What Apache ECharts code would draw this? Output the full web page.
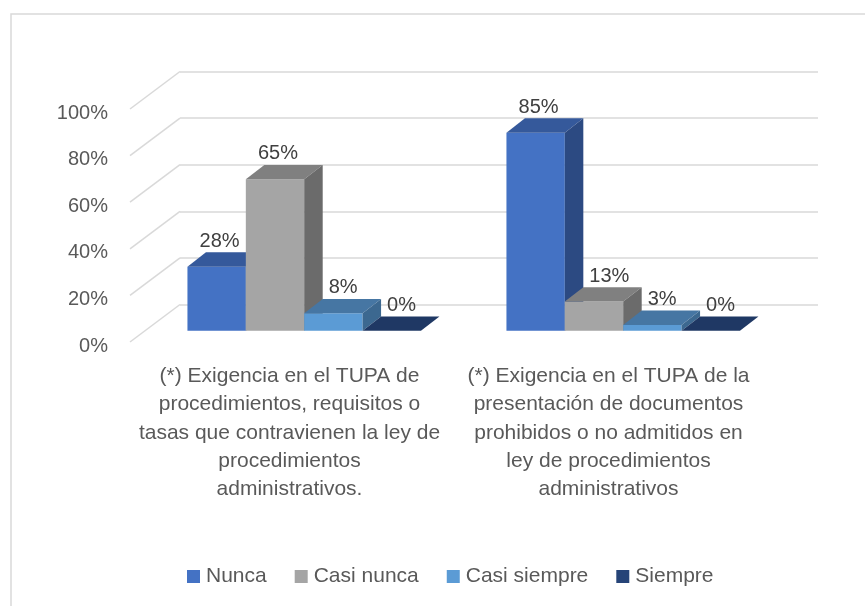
<!DOCTYPE html>
<html>
<head>
<meta charset="utf-8">
<script src="https://cdn.jsdelivr.net/npm/echarts@6/dist/echarts.min.js"></script>
<style>
  html, body { margin: 0; padding: 0; background: #fff; }
  #chart { width: 865px; height: 606px; }
</style>
</head>
<body>
<div id="chart"></div>
<script>
// categorias (texto del eje X)
const categories = [
  '(*) Exigencia en el TUPA de\nprocedimientos, requisitos o\ntasas que contravienen la ley de\nprocedimientos\nadministrativos.',
  '(*) Exigencia en el TUPA de la\npresentación de documentos\nprohibidos o no admitidos en\nley de procedimientos\nadministrativos'
];
const seriesNames = ['Nunca', 'Casi nunca', 'Casi siempre', 'Siempre'];
// valores en %
const nunca = [27.5, 85];
const casiNunca = [65, 12.5];
const casiSiempre = [7.5, 2.5];
const siempre = [0, 0];
const yTicks = [0, 20, 40, 60, 80, 100];

// colores: cara frontal, superior, lateral
const faces = [
  { front: '#4472C4', top: '#35599B', side: '#2C4A82' },
  { front: '#A5A5A5', top: '#808080', side: '#6B6B6B' },
  { front: '#5B9BD5', top: '#4676A3', side: '#3C6890' },
  { front: '#264478', top: '#1F3864', side: '#1A2F55' }
];

// planos del efecto 3D
const FRONT = { left: 130, top: 109 };
const BAR = { left: 144.7, top: 97.7 };
const BACK = { left: 180, top: 71.5 };
const PLOT_W = 638, PLOT_H = 233;
const BAR_DX = 18.5, BAR_DY = -14.3;
const BAR_FRAC = 0.183;
const FONT = 'Liberation Sans';

const values = [nunca, casiNunca, casiSiempre, siempre];
const chart = echarts.init(document.getElementById('chart'));

function renderBar(si) {
  return function (params, api) {
    const idx = api.value(0), v = api.value(1);
    const c = api.coord([idx, v]);
    const base = api.coord([idx, 0]);
    const band = api.size([1, 0])[0];
    const bw = band * BAR_FRAC;
    const x0 = c[0] - 2 * bw + si * bw;
    const top = c[1], bot = base[1];
    const f = faces[si];
    const txt = Math.round(v) + '%';
    // si la barra anterior es mas alta, correr la etiqueta para no tapar su costado
    let lx = x0 + bw / 2 + 3;
    if (si > 0 && values[si - 1][idx] > v) {
      const tw = echarts.format.getTextRect ? echarts.format.getTextRect(txt, '20px ' + FONT).width : txt.length * 11;
      lx = Math.max(lx, x0 + BAR_DX + tw / 2 + 6);
    }
    return {
      type: 'group',
      children: [
        { type: 'rect', shape: { x: x0, y: top, width: bw, height: bot - top }, style: { fill: f.front } },
        { type: 'polygon', shape: { points: [[x0, top], [x0 + bw, top], [x0 + bw + BAR_DX, top + BAR_DY], [x0 + BAR_DX, top + BAR_DY]] }, style: { fill: f.top } },
        { type: 'polygon', shape: { points: [[x0 + bw, top], [x0 + bw, bot], [x0 + bw + BAR_DX, bot + BAR_DY], [x0 + bw + BAR_DX, top + BAR_DY]] }, style: { fill: f.side } },
        { type: 'text', z2: 10, style: { text: txt, x: lx, y: top + BAR_DY - 11,
          align: 'center', verticalAlign: 'middle', fontSize: 20, fontFamily: FONT, fill: '#404040' } }
      ]
    };
  };
}

const barSeries = seriesNames.map((name, si) => ({
  name: name,
  type: 'custom',
  xAxisIndex: 0,
  yAxisIndex: 0,
  z: 3,
  silent: true,
  itemStyle: { color: faces[si].front },
  renderItem: renderBar(si),
  data: values[si].map((v, i) => [i, v])
}));

const option = {
  backgroundColor: '#fff',
  animation: false,
  graphic: [{
    type: 'rect', shape: { x: 11, y: 14, width: 900, height: 700 },
    style: { fill: 'none', stroke: '#d9d9d9', lineWidth: 1.5 }, silent: true
  }],
  legend: {
    data: seriesNames,
    left: 182,
    top: 561,
    icon: 'rect',
    itemWidth: 13,
    itemHeight: 13,
    itemGap: 28,
    textStyle: { fontSize: 21, color: '#595959', fontFamily: FONT, padding: [0, 0, 0, 1] }
  },
  grid: [
    { left: BAR.left, top: BAR.top, width: PLOT_W, height: PLOT_H },
    { left: FRONT.left, top: FRONT.top, width: PLOT_W, height: PLOT_H },
    { left: BACK.left, top: BACK.top, width: PLOT_W, height: PLOT_H }
  ],
  xAxis: [
    { gridIndex: 0, type: 'category', data: categories, show: false },
    {
      gridIndex: 1, type: 'category', data: categories,
      axisLine: { show: false }, axisTick: { show: false },
      axisLabel: { interval: 0, margin: 20, fontSize: 21, lineHeight: 28.3, color: '#595959', fontFamily: FONT }
    },
    { gridIndex: 2, type: 'category', data: categories, show: false }
  ],
  yAxis: [
    { gridIndex: 0, type: 'value', min: 0, max: 100, show: false },
    {
      gridIndex: 1, type: 'value', min: 0, max: 100, interval: 20,
      axisLine: { show: false }, axisTick: { show: false }, splitLine: { show: false },
      axisLabel: { formatter: '{value}%', margin: 22, fontSize: 20, lineHeight: 26, verticalAlign: 'top', padding: [-9, 0, 0, 0], color: '#595959', fontFamily: FONT }
    },
    {
      gridIndex: 2, type: 'value', min: 0, max: 100, interval: 20,
      axisLine: { show: false }, axisTick: { show: false }, axisLabel: { show: false },
      splitLine: { lineStyle: { color: '#d9d9d9', width: 1.5 } }
    }
  ],
  series: [
    {
      // lineas de la pared lateral
      type: 'custom',
      xAxisIndex: 1,
      yAxisIndex: 1,
      z: 1,
      silent: true,
      renderItem: function (params, api) {
        const p = api.coord([0, api.value(1)]);
        const left = p[0] - api.size([1, 0])[0] / 2;
        return {
          type: 'line',
          shape: { x1: left, y1: p[1], x2: left + (BACK.left - FRONT.left), y2: p[1] + (BACK.top - FRONT.top) },
          style: { stroke: '#d9d9d9', lineWidth: 1.5 }
        };
      },
      data: yTicks.map(v => [0, v])
    }
  ].concat(barSeries)
};

chart.setOption(option);
</script>
</body>
</html>
